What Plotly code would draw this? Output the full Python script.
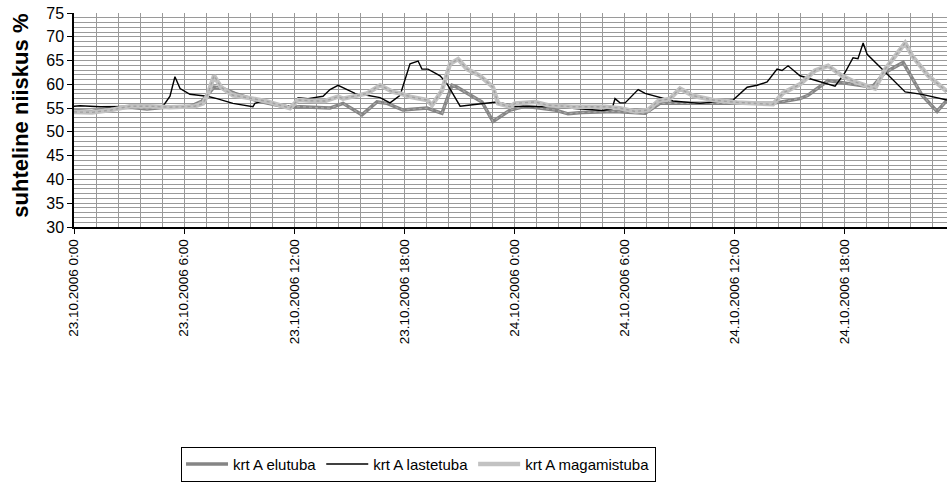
import pandas as pd
import plotly.graph_objects as go

START = pd.Timestamp("2006-10-23 00:00")

# hours after 23.10.2006 0:00, relative humidity %
elutuba_h = [0.00, 0.98, 2.02, 3.05, 3.98, 4.96, 6.32, 6.98, 7.63, 8.07, 8.77, 10.03, 11.34, 11.88,
             12.32, 13.95, 14.66, 15.69, 16.51, 17.06, 17.93, 19.24, 20.05, 20.60, 20.87, 21.74,
             22.23, 22.83, 23.76, 24.58, 26.21, 26.92, 27.68, 29.48, 31.12, 31.93, 34.11, 38.09,
             39.56, 40.00, 41.09, 43.49, 44.20, 45.18, 46.21, 47.03, 47.57]
elutuba_v = [54.5, 54.3, 55.0, 55.2, 54.8, 55.2, 55.3, 56.5, 59.4, 59.2, 58.1, 56.5, 55.4, 55.2,
             55.3, 55.0, 56.0, 53.6, 56.3, 56.0, 54.6, 55.0, 53.9, 59.8, 59.4, 57.4,
             56.3, 52.2, 54.6, 55.4, 54.6, 53.8, 54.1, 54.3, 53.9, 56.0, 56.0, 56.0,
             57.0, 57.7, 60.8, 59.4, 62.5, 64.6, 57.7, 54.3, 56.7]

lastetuba_h = [0.00, 0.33, 1.42, 4.85, 5.23, 5.50, 5.78, 6.32, 7.25, 7.79, 8.66, 9.48, 9.75, 9.86,
               10.25, 11.34, 11.88, 12.21, 12.75, 13.57, 13.95, 14.39, 14.77, 15.31, 15.97, 16.68,
               17.22, 17.77, 18.04, 18.31, 18.75, 18.96, 19.29, 19.95, 20.33, 20.65, 21.04, 21.96,
               23.05, 24.03, 26.05, 28.77, 29.32, 29.48, 29.75, 30.03, 30.41, 30.74, 31.12, 31.66,
               32.10, 32.64, 34.11, 35.91, 36.68, 37.22, 37.77, 38.31, 38.58, 38.91, 39.56, 40.38,
               41.47, 42.02, 42.45, 42.72, 43.00, 43.22, 44.03, 45.29, 46.21, 47.57]
lastetuba_v = [55.4, 55.5, 55.3, 55.4, 57.5, 61.6, 59.1, 57.9, 57.5, 57.0, 56.0, 55.4, 55.3, 56.0,
               56.5, 55.6, 55.4, 57.2, 57.0, 57.5, 58.9, 59.8, 59.1, 58.1, 57.7, 57.2,
               56.1, 57.7, 61.0, 64.3, 64.9, 63.2, 63.2, 61.8, 60.1, 58.1, 55.4, 55.8,
               56.3, 55.4, 55.3, 54.5, 54.8, 57.0, 56.1, 56.1, 57.7, 58.9, 58.1, 57.5,
               57.0, 56.5, 56.0, 56.7, 59.4, 59.8, 60.5, 63.2, 62.9, 63.9, 61.8, 60.8,
               59.6, 62.5, 65.6, 65.4, 68.7, 66.3, 63.2, 58.4, 57.9, 56.7]

magamistuba_h = [0.00, 0.98, 2.02, 3.05, 4.14, 5.23, 6.59, 7.03, 7.30, 7.63, 8.01, 8.66, 9.75, 10.52,
                 11.77, 12.21, 13.13, 13.68, 14.39, 14.66, 15.97, 16.68, 17.38, 17.77, 18.31, 19.24,
                 19.51, 20.05, 20.49, 20.93, 21.42, 22.13, 22.83, 23.11, 23.76, 24.03, 25.12, 25.83,
                 27.14, 28.94, 29.75, 30.57, 31.28, 31.83, 32.48, 33.02, 33.73, 34.82, 36.13, 38.09,
                 38.64, 39.56, 40.38, 41.09, 41.85, 42.56, 43.65, 44.20, 44.90, 45.29, 45.67, 46.54,
                 47.57]
magamistuba_v = [54.2, 54.1, 54.6, 55.4, 55.4, 55.2, 55.4, 56.0, 58.0, 61.8, 59.4, 57.7, 57.0, 56.4,
                 55.0, 56.7, 56.5, 56.5, 57.4, 57.0, 58.1, 59.8, 58.4, 58.1, 57.4, 56.7,
                 55.6, 58.7, 64.3, 65.3, 63.2, 61.8, 59.4, 56.0, 55.3, 56.0, 56.3, 55.6,
                 55.3, 55.3, 55.0, 54.3, 54.6, 56.5, 57.0, 59.1, 57.6, 56.7, 56.2, 55.8,
                 58.2, 60.0, 62.9, 63.9, 61.8, 60.5, 59.1, 63.2, 66.7, 68.7, 66.0, 61.8,
                 58.5]

series_names = ["krt A elutuba", "krt A lastetuba", "krt A magamistuba"]
y_title = "suhteline niiskus %"


def to_time(hours):
    return [START + pd.Timedelta(hours=h) for h in hours]


fig = go.Figure()
fig.add_trace(go.Scatter(x=to_time(elutuba_h), y=elutuba_v, mode="lines", name=series_names[0],
                         legendgroup="e", line=dict(color="#858585", width=3.5)))
fig.add_trace(go.Scatter(x=to_time(elutuba_h), y=elutuba_v, mode="lines", showlegend=False,
                         legendgroup="e", hoverinfo="skip",
                         line=dict(color="rgba(200,200,200,0.55)", width=1.2, dash="dot")))
fig.add_trace(go.Scatter(x=to_time(lastetuba_h), y=lastetuba_v, mode="lines", name=series_names[1],
                         line=dict(color="#000000", width=1.4)))
fig.add_trace(go.Scatter(x=to_time(magamistuba_h), y=magamistuba_v, mode="lines", name=series_names[2],
                         legendgroup="m", line=dict(color="#c2c2c2", width=4.5)))
fig.add_trace(go.Scatter(x=to_time(magamistuba_h), y=magamistuba_v, mode="lines", showlegend=False,
                         legendgroup="m", hoverinfo="skip",
                         line=dict(color="rgba(140,140,140,0.6)", width=1.4, dash="dot")))

x_end = START + pd.Timedelta(hours=47.57)
grid_col = "#9a9a9a"

fig.update_layout(
    width=947, height=482,
    margin=dict(l=74, r=0, t=13, b=251),
    paper_bgcolor="white", plot_bgcolor="white",
    font=dict(family="Liberation Sans, Arial, sans-serif", color="black"),
    showlegend=True,
    legend=dict(orientation="h", x=0.1226, y=-1.027, xanchor="left", yanchor="top",
                bordercolor="black", borderwidth=1, bgcolor="white",
                font=dict(size=15), itemwidth=42, tracegroupgap=0),
    xaxis=dict(
        type="date", range=[START, x_end],
        tick0=START, dtick=6 * 3600 * 1000,
        tickformat="%d.%m.%Y %-H:%M", tickangle=-90,
        tickfont=dict(size=13.5),
        ticks="outside", ticklen=5, tickcolor="black",
        showgrid=True, gridcolor=grid_col, gridwidth=1,
        minor=dict(dtick=72 * 60 * 1000, tick0=START, showgrid=True, gridcolor=grid_col, gridwidth=1),
        showline=True, linecolor="black", linewidth=1.5,
        zeroline=False,
    ),
    yaxis=dict(
        range=[30, 75], tick0=30, dtick=5,
        tickfont=dict(size=16),
        ticks="outside", ticklen=5, tickcolor="black",
        showgrid=True, gridcolor=grid_col, gridwidth=1,
        minor=dict(dtick=1, showgrid=True, gridcolor=grid_col, gridwidth=1),
        showline=True, linecolor="black", linewidth=1.5,
        zeroline=False,
    ),
    annotations=[dict(text="<b>" + y_title + "</b>", textangle=-90, xref="paper", yref="paper",
                      x=-0.0607, y=0.52, xanchor="center", yanchor="middle", showarrow=False,
                      font=dict(size=22))],
)

fig.write_html("out.html")
